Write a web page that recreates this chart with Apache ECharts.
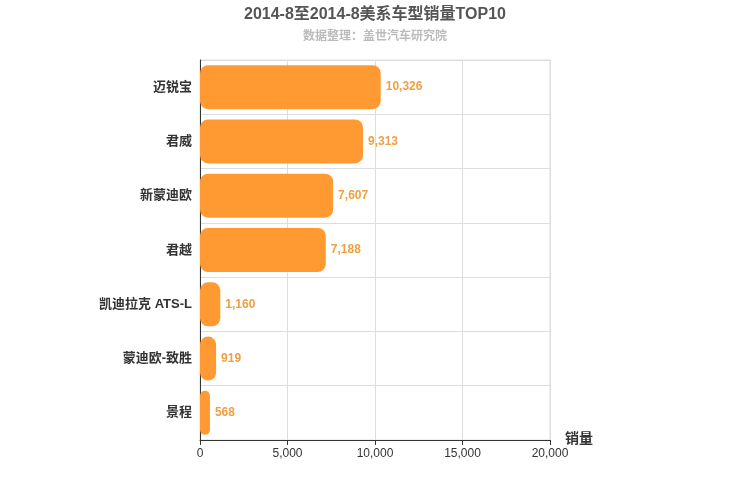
<!DOCTYPE html>
<html><head><meta charset="utf-8">
<script src="https://cdn.jsdelivr.net/npm/echarts@6/dist/echarts.min.js"></script>
<style>html,body{margin:0;padding:0}#c{width:750px;height:500px}</style>
</head><body><div id="c"></div>
<script>
const categories = ['迈锐宝', '君威', '新蒙迪欧', '君越', '凯迪拉克 ATS-L', '蒙迪欧-致胜', '景程'];
const sales = [10326, 9313, 7607, 7188, 1160, 919, 568];

var myChart = echarts.init(document.getElementById('c'));
const font = 'Helvetica, Arial, "Noto Sans CJK SC", sans-serif';
let option = {
    textStyle: { fontFamily: font },
    title: {
        text: '2014-8至2014-8美系车型销量TOP10',
        subtext: '数据整理：盖世汽车研究院',
        left: 'center', top: 2, itemGap: 8,
        textStyle: { fontSize: 16, fontWeight: 'bold', color: '#555', fontFamily: font },
        subtextStyle: { fontSize: 12, color: '#bbb', fontWeight: 'bold', fontFamily: font }
    },
    grid: { left: 200, right: 200, top: 60, bottom: 60, show: true, borderColor: '#ddd', borderWidth: 1 },
    xAxis: {
        type: 'value', min: 0, max: 20000, interval: 5000,
        name: '销量', nameGap: 15,
        nameTextStyle: { fontSize: 14, fontWeight: 'bold', color: '#333', verticalAlign: 'top', padding: [-8, 0, 0, 0] },
        axisLine: { show: true, lineStyle: { color: '#333' } },
        axisTick: { show: true },
        axisLabel: { color: '#333', formatter: v => v.toLocaleString('en-US') },
        splitLine: { lineStyle: { color: '#ddd' } }
    },
    yAxis: {
        type: 'category', data: categories, inverse: true,
        axisLine: { show: true, lineStyle: { color: '#333' } },
        axisTick: { show: false },
        axisLabel: { color: '#333', fontSize: 13, fontWeight: 'bold', margin: 8 },
        splitLine: { show: true, lineStyle: { color: '#ddd' } }
    },
    series: [{
        type: 'bar', data: sales, barWidth: 44,
        itemStyle: { color: '#ff9a33', borderRadius: 8 },
        label: { show: true, position: 'right', color: '#f0a040', fontWeight: 'bold', fontSize: 12,
                 formatter: p => p.value.toLocaleString('en-US') }
    }]
};
myChart.setOption(option);
</script></body></html>
